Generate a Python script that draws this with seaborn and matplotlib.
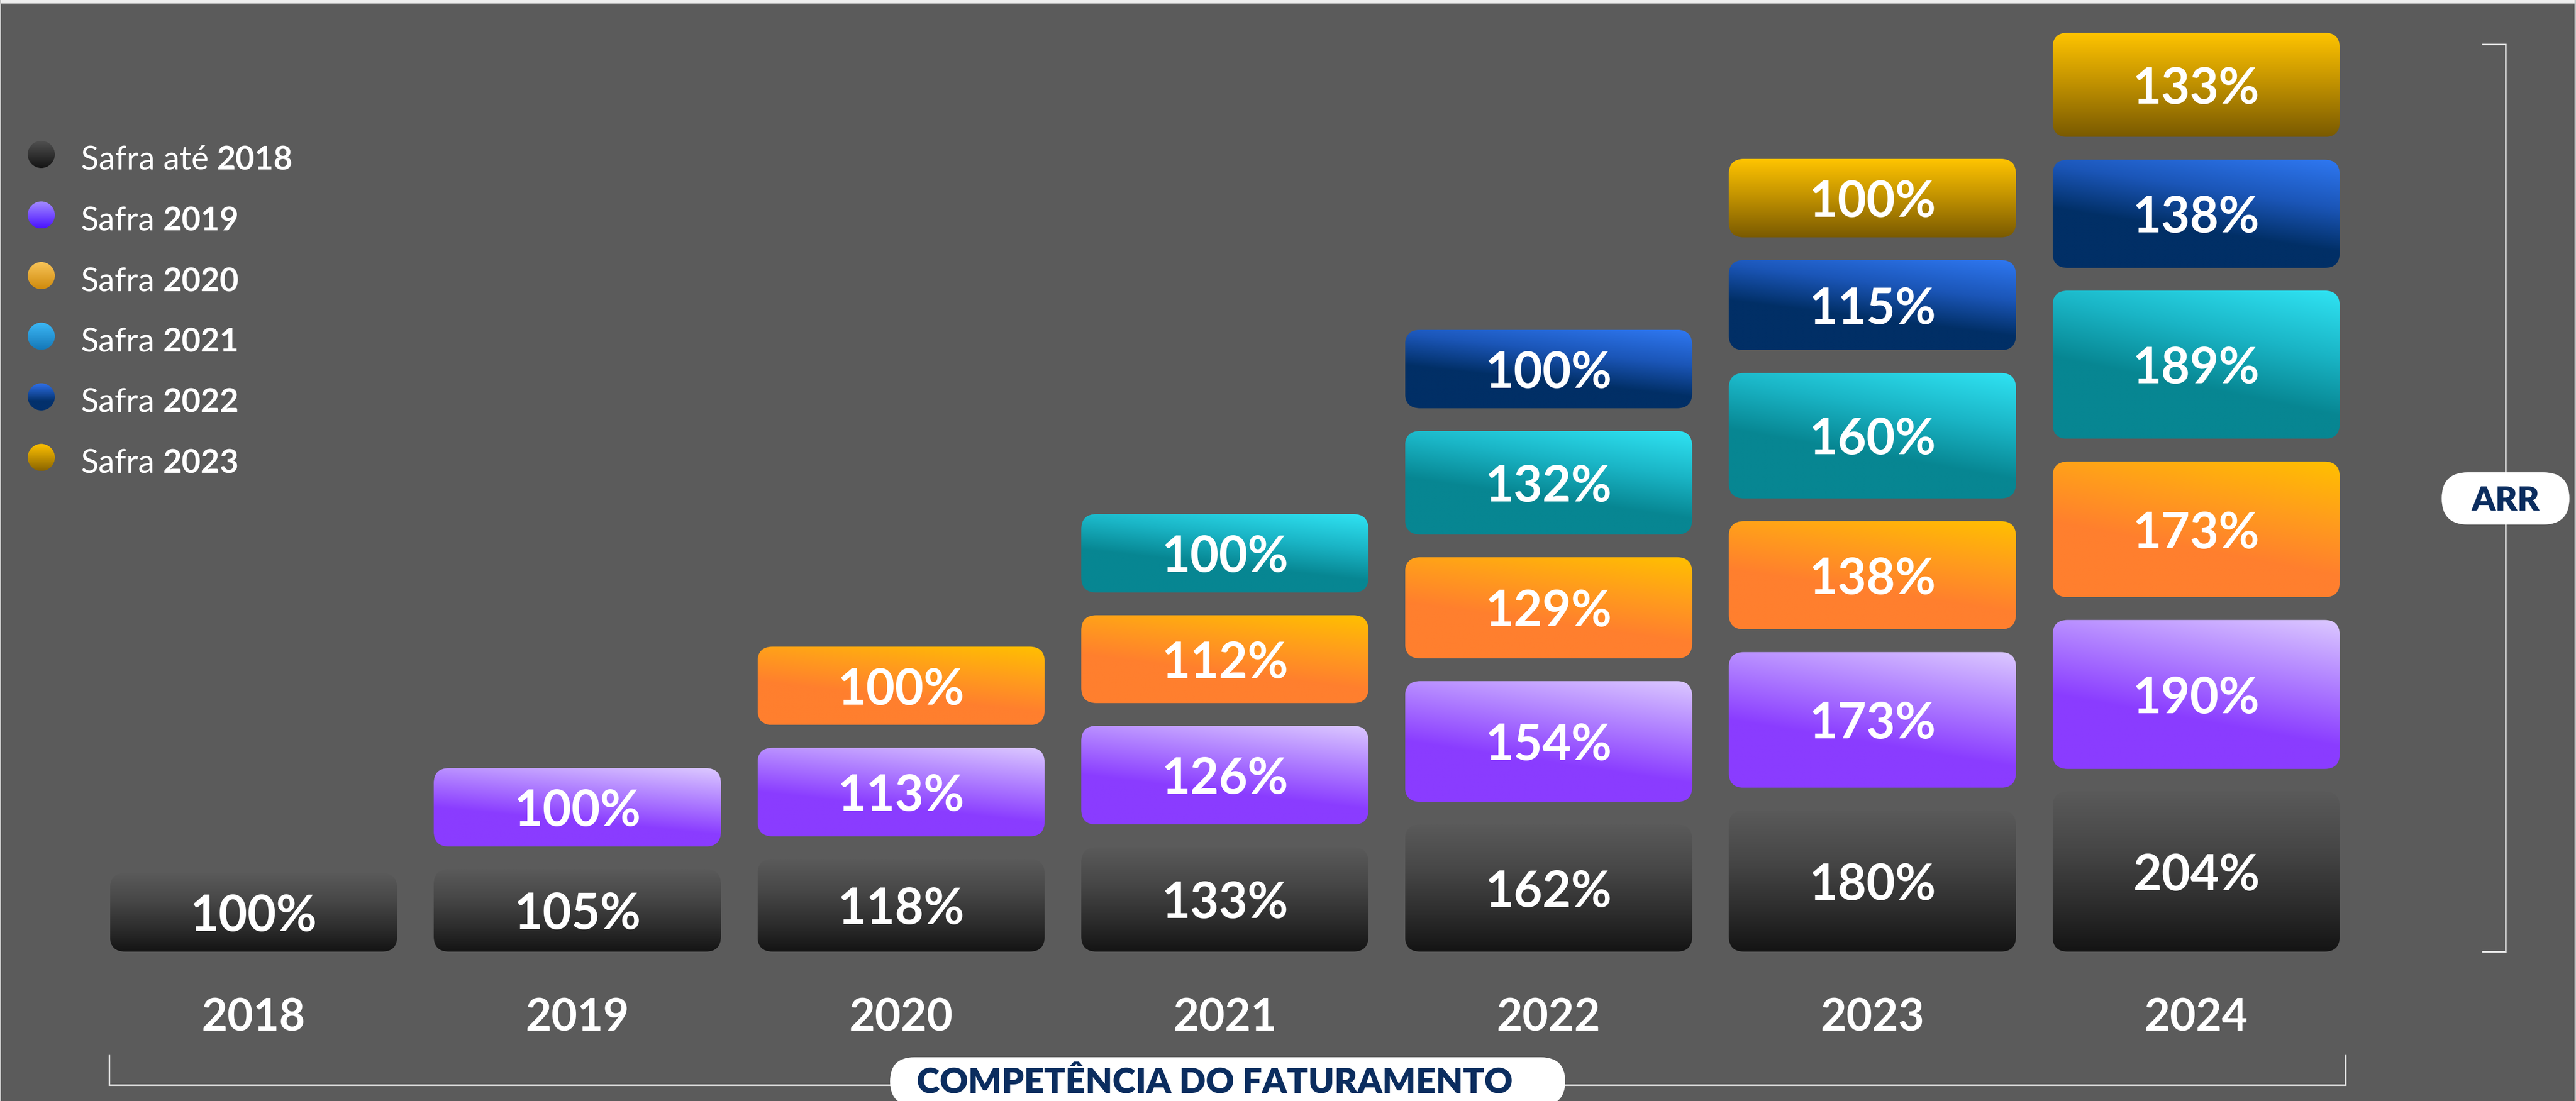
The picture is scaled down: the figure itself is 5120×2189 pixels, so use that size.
import numpy as np
import pandas as pd
import matplotlib
matplotlib.use("Agg")
import matplotlib.pyplot as plt
import seaborn as sns
from matplotlib.patches import FancyBboxPatch, Circle, Rectangle
from matplotlib.colors import to_rgb

# ---------------------------------------------------------------- data
YEARS = ["2018", "2019", "2020", "2021", "2022", "2023", "2024"]

COHORT_PREFIX = ["Safra até", "Safra", "Safra", "Safra", "Safra", "Safra"]
COHORT_START = ["2018", "2019", "2020", "2021", "2022", "2023"]

# ARR of each cohort (index 100 = first year), from its first year onward
safra_ate_2018 = [100, 105, 118, 133, 162, 180, 204]
safra_2019 = [100, 113, 126, 154, 173, 190]
safra_2020 = [100, 112, 129, 138, 173]
safra_2021 = [100, 132, 160, 189]
safra_2022 = [100, 115, 138]
safra_2023 = [100, 133]

COHORT_VALUES = [safra_ate_2018, safra_2019, safra_2020,
                 safra_2021, safra_2022, safra_2023]

X_TITLE = "COMPETÊNCIA DO FATURAMENTO"
Y_TITLE = "ARR"

# ---------------------------------------------------------------- style
BG = "#5b5b5b"
NAVY = "#0b2d5f"
LINE = "#e6e6e6"

# bar fills: (colour stops along u, diagonal tilt)
BAR_GRADIENTS = [
    ([(0.0, "#5a5a5a"), (0.35, "#474747"), (0.7, "#2d2d2d"), (1.0, "#141414")], 0.0),
    ([(0.0, "#dcc9ff"), (0.4, "#b487ff"), (0.85, "#8a3cff"), (1.5, "#8a3cff")], 0.35),
    ([(0.0, "#ffc000"), (0.45, "#ff9d1c"), (0.85, "#ff7f2e"), (1.5, "#ff7f2e")], 0.4),
    ([(0.0, "#30e3f3"), (0.45, "#1ab5c6"), (0.85, "#078692"), (1.5, "#078692")], 0.4),
    ([(0.0, "#2f78f2"), (0.45, "#1b56b8"), (0.85, "#012f66"), (1.5, "#012f66")], 0.4),
    ([(0.0, "#ffc400"), (0.5, "#bf9000"), (1.0, "#7a5a00")], 0.0),
]
DOT_GRADIENTS = [
    [(0.0, "#505050"), (1.0, "#141414")],
    [(0.0, "#a48cff"), (1.0, "#4a12ff")],
    [(0.0, "#f8c458"), (1.0, "#cf8a0c")],
    [(0.0, "#3cb8f6"), (1.0, "#1578b8")],
    [(0.0, "#2f70ea"), (0.65, "#03316c"), (1.0, "#03316c")],
    [(0.0, "#ffc200"), (1.0, "#8a6400")],
]

W_PX, H_PX, DPI = 5120, 2189, 100
BASE_PX = 1892        # baseline of the bars, measured from the top edge
TOP_PX = 65           # top of the tallest stack
FIRST_CX = 504        # centre of the first column
STEP = 643.5          # distance between columns
BAR_WIDTH = 0.887
GAP = 29              # vertical gap between stacked blocks, in value units
RADIUS_PX = 30


def gradient(stops, tilt=0.0, n=160):
    yy, xx = np.mgrid[0:n, 0:n] / (n - 1)
    u = yy + tilt * (1 - xx)
    pos = [s[0] for s in stops]
    cols = np.array([to_rgb(s[1]) for s in stops])
    return np.stack([np.interp(u, pos, cols[:, k]) for k in range(3)], axis=-1)


# ---------------------------------------------------------------- table
rows = []
for c, (start, vals) in enumerate(zip(COHORT_START, COHORT_VALUES)):
    i0 = YEARS.index(start)
    for k, v in enumerate(vals):
        rows.append(dict(safra=c, year=YEARS[i0 + k], value=v))
df = pd.DataFrame(rows)
df["bottom"] = 0.0
for y in YEARS:
    sub = df[df["year"] == y].sort_values("safra")
    df.loc[sub.index, "bottom"] = (sub["value"].cumsum().shift(fill_value=0)
                                   + GAP * np.arange(len(sub)))

stack_top = (df["bottom"] + df["value"]).max()
ymax = stack_top * BASE_PX / (BASE_PX - TOP_PX)
ppx = STEP                 # pixels per category unit
ppy = BASE_PX / ymax       # pixels per value unit

# ---------------------------------------------------------------- figure
sns.set_theme(style="white")
plt.rcParams["font.family"] = ["Lato", "DejaVu Sans"]

fig = plt.figure(figsize=(W_PX / DPI, H_PX / DPI), dpi=DPI, facecolor=BG)
ax = fig.add_axes([0, (H_PX - BASE_PX) / H_PX, 1, BASE_PX / H_PX])
ax.set_facecolor(BG)

for c in range(len(COHORT_VALUES)):
    sub = df[df["safra"] == c]
    sns.barplot(data=sub, x="year", y="value", order=YEARS, width=BAR_WIDTH,
                color="#888888", errorbar=None, ax=ax)
    bars = ax.containers[-1]
    stops, tilt = BAR_GRADIENTS[c]
    img = gradient(stops, tilt)
    for p in bars:
        h = p.get_height()
        if not np.isfinite(h) or h <= 0:
            continue
        x0, w = p.get_x(), p.get_width()
        year = YEARS[int(round(x0 + w / 2))]
        row = sub[sub["year"] == year].iloc[0]
        b = row["bottom"]
        p.set_y(b)
        p.set_visible(False)
        box = FancyBboxPatch((x0, b), w, h,
                             boxstyle=f"round,pad=0,rounding_size={RADIUS_PX / ppx}",
                             mutation_aspect=ppx / ppy,
                             facecolor="none", edgecolor="none", zorder=2)
        ax.add_patch(box)
        im = ax.imshow(img, extent=(x0, x0 + w, b, b + h), origin="upper",
                       aspect="auto", interpolation="bilinear", zorder=2)
        im.set_clip_path(box)
        ax.text(x0 + w / 2, b + h / 2, f"{int(row['value'])}%",
                ha="center", va="center_baseline", color="white",
                fontsize=71, fontweight="bold", zorder=4)

ax.set_xlim(-FIRST_CX / STEP, (W_PX - FIRST_CX) / STEP)
ax.set_ylim(0, ymax)
ax.set_xticks(range(len(YEARS)))
ax.set_xticklabels(YEARS, fontweight="bold")
ax.tick_params(axis="x", length=0, pad=65, labelsize=64, labelcolor="white")
ax.set_yticks([])
ax.set(xlabel="", ylabel="")
sns.despine(ax=ax, left=True, bottom=True)

# ---------------------------------------------------------------- overlay
ov = fig.add_axes([0, 0, 1, 1], zorder=5)
ov.patch.set_alpha(0)
ov.axis("off")
ov.set_xlim(0, W_PX)
ov.set_ylim(H_PX, 0)

renderer = fig.canvas.get_renderer()
for i, (prefix, start) in enumerate(zip(COHORT_PREFIX, COHORT_START)):
    cy = 307 + 120.5 * i
    dot = Circle((82, cy), 27, facecolor="none", edgecolor="none")
    ov.add_patch(dot)
    im = ov.imshow(gradient(DOT_GRADIENTS[i]), extent=(55, 109, cy + 27, cy - 27),
                   origin="upper", aspect="auto", interpolation="bilinear")
    im.set_clip_path(dot)
    t1 = ov.text(161, cy + 31, prefix, color="white", fontsize=47,
                 ha="left", va="baseline")
    ov.set_xlim(0, W_PX)
    ov.set_ylim(H_PX, 0)
    wpx = t1.get_window_extent(renderer).width
    ov.text(161 + wpx + 16, cy + 31, start, color="white", fontsize=47,
            fontweight="bold", ha="left", va="baseline")

# bracket under the columns
ov.plot([217, 217, 4662, 4662], [2097, 2157, 2157, 2097], color=LINE, lw=2.2,
        solid_joinstyle="miter", solid_capstyle="butt")
ov.add_patch(FancyBboxPatch((1769, 2102), 1342, 96,
                            boxstyle="round,pad=0,rounding_size=48",
                            facecolor="white", edgecolor="none", zorder=3))
ov.text(2414, 2173, X_TITLE, ha="center", va="baseline", color=NAVY,
        fontsize=50, fontweight="heavy", zorder=4)

# bracket at the right side
ov.plot([4933, 4980, 4980, 4933], [88, 88, 1892, 1892], color=LINE, lw=2.2,
        solid_joinstyle="miter", solid_capstyle="butt")
ov.add_patch(FancyBboxPatch((4853, 939), 254, 104,
                            boxstyle="round,pad=0,rounding_size=52",
                            facecolor="white", edgecolor="none", zorder=3))
ov.text(4980, 1015, Y_TITLE, ha="center", va="baseline", color=NAVY,
        fontsize=48, fontweight="heavy", zorder=4)

# frame edges
ov.add_patch(Rectangle((0, 0), W_PX, 7, facecolor="#eeeeee", edgecolor="none"))
ov.add_patch(Rectangle((0, 0), 2, H_PX, facecolor="#c4c4c4", edgecolor="none"))
ov.add_patch(Rectangle((W_PX - 3, 0), 3, H_PX, facecolor="#c4c4c4", edgecolor="none"))

ov.set_xlim(0, W_PX)
ov.set_ylim(H_PX, 0)

fig.savefig("out.png", dpi=DPI, facecolor=BG)
